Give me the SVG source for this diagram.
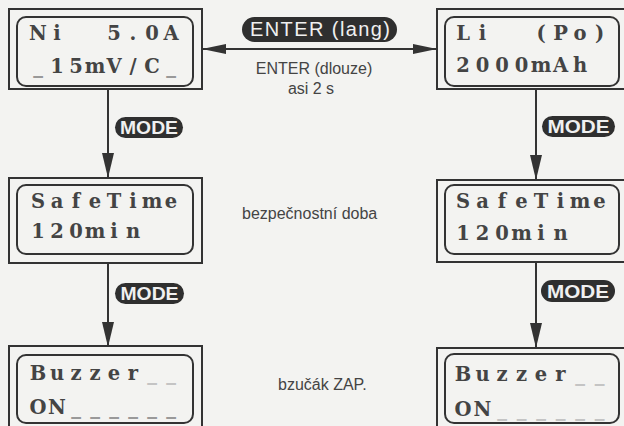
<svg xmlns="http://www.w3.org/2000/svg" width="624" height="426" viewBox="0 0 624 426">
<defs>
<style>
.bg{fill:#f3f3f1}
.outer{fill:none;stroke:#333;stroke-width:2}
.inner{fill:none;stroke:#333;stroke-width:2}
.lcd{font-family:"DejaVu Serif","Liberation Serif",serif;font-weight:bold;font-size:19.5px;fill:#444;text-anchor:middle}
.dim{fill:#999}
.faint{fill:#c4c4c4}
.badge{fill:#2f2f2f}
.btxt{font-family:"Liberation Sans",Arial,sans-serif;font-size:18px;font-weight:bold;fill:#f0f0f0;text-anchor:middle}
.big{font-size:20px;font-weight:normal}
.lbl{font-family:"Liberation Sans",Arial,sans-serif;font-size:16px;fill:#444}
.conn{fill:none;stroke:#333;stroke-width:2}
</style>
<marker id="ah" markerUnits="userSpaceOnUse" viewBox="0 0 25 12" markerWidth="25" markerHeight="12" refX="24" refY="6" orient="auto-start-reverse">
<path d="M0,0 L25,6 L0,12 Z" fill="#333"/>
</marker>
<marker id="ahh" markerUnits="userSpaceOnUse" viewBox="0 0 24 10" markerWidth="24" markerHeight="10" refX="23" refY="5" orient="auto-start-reverse">
<path d="M0,0 L24,5 L0,10 Z" fill="#333"/>
</marker>
</defs>
<rect class="bg" x="0" y="0" width="624" height="426"/>

<g id="connectors">
<line class="conn" x1="203" y1="49" x2="436" y2="49" marker-start="url(#ahh)" marker-end="url(#ahh)"/>
<line class="conn" x1="108" y1="89" x2="108" y2="177" marker-end="url(#ah)"/>
<line class="conn" x1="108" y1="263" x2="108" y2="346" marker-end="url(#ah)"/>
<line class="conn" x1="536" y1="89" x2="536" y2="179" marker-end="url(#ah)"/>
<line class="conn" x1="536" y1="262" x2="536" y2="347" marker-end="url(#ah)"/>
</g>

<g id="label-enter-lang">
<rect class="badge" x="242" y="17" width="155" height="25" rx="12.5"/>
<text class="btxt big" x="320" y="36" textLength="140" lengthAdjust="spacing" xml:space="preserve">ENTER (lang)</text>
</g>
<g id="label-enter-dlouze">
<text class="lbl" x="314" y="74" text-anchor="middle">ENTER (dlouze)</text>
<text class="lbl" x="311" y="94" text-anchor="middle" font-size="15">asi 2 s</text>
</g>
<g id="label-mode-l1">
<rect class="badge" x="115" y="117" width="68" height="21" rx="10.5"/>
<text class="btxt" x="149" y="134" textLength="58" lengthAdjust="spacingAndGlyphs">MODE</text>
</g>
<g id="label-mode-r1">
<rect class="badge" x="542" y="116" width="73" height="21" rx="10.5"/>
<text class="btxt" x="578.5" y="133" textLength="62" lengthAdjust="spacingAndGlyphs">MODE</text>
</g>
<g id="label-mode-l2">
<rect class="badge" x="115" y="283" width="69" height="21" rx="10.5"/>
<text class="btxt" x="149.5" y="300" textLength="58" lengthAdjust="spacingAndGlyphs">MODE</text>
</g>
<g id="label-mode-r2">
<rect class="badge" x="541" y="280" width="74" height="22" rx="11"/>
<text class="btxt" x="578" y="297.5" textLength="62" lengthAdjust="spacingAndGlyphs">MODE</text>
</g>
<g id="label-safetime">
<text class="lbl" x="242" y="219">bezpečnostní doba</text>
</g>
<g id="label-buzzer">
<text class="lbl" x="278" y="390" font-size="15.5">bzučák ZAP.</text>
</g>

<g id="node-ni">
<rect class="outer" x="9" y="9" width="193" height="80"/>
<rect class="inner" x="17" y="17" width="176" height="69" rx="9"/>
<text class="lcd" x="38 57 76 95 114 133 152 171" y="40" xml:space="preserve">Ni  5.0A</text>
<text class="lcd" x="38 57 76 95 114 133 152 171" y="73"><tspan class="dim">_</tspan>15mV/C<tspan class="dim">_</tspan></text>
</g>
<g id="node-li">
<rect class="outer" x="437" y="9" width="193" height="80"/>
<rect class="inner" x="445" y="17" width="174" height="69" rx="9"/>
<text class="lcd" x="463 482.5 502 521.5 541 560.5 580 599.5" y="40" xml:space="preserve">Li  (Po)</text>
<text class="lcd" x="463 482.5 502 521.5 541 560.5 580" y="72">2000mAh</text>
</g>
<g id="node-safetime-l">
<rect class="outer" x="9" y="178" width="193" height="85"/>
<rect class="inner" x="17" y="185" width="176" height="69" rx="9"/>
<text class="lcd" x="38 57 76 95 114 133 152 171" y="208">SafeTime</text>
<text class="lcd" x="38 57 76 95 114 133" y="238">120min</text>
</g>
<g id="node-safetime-r">
<rect class="outer" x="437" y="180" width="193" height="82"/>
<rect class="inner" x="445" y="185" width="174" height="69" rx="9"/>
<text class="lcd" x="463 482.5 502 521.5 541 560.5 580 599.5" y="208">SafeTime</text>
<text class="lcd" x="463 482.5 502 521.5 541 560.5" y="240">120min</text>
</g>
<g id="node-buzzer-l">
<rect class="outer" x="9" y="346" width="193" height="86"/>
<rect class="inner" x="17" y="355" width="176" height="68" rx="9"/>
<text class="lcd" x="38 57 76 95 114 133 152 171" y="380">Buzzer<tspan class="faint">__</tspan></text>
<text class="lcd" x="38 57 76 95 114 133 152 171" y="414">ON<tspan class="dim">______</tspan></text>
</g>
<g id="node-buzzer-r">
<rect class="outer" x="437" y="348" width="193" height="84"/>
<rect class="inner" x="445" y="354" width="174" height="69" rx="9"/>
<text class="lcd" x="463 482.5 502 521.5 541 560.5 580 599.5" y="381">Buzzer<tspan class="faint">__</tspan></text>
<text class="lcd" x="463 482.5 502 521.5 541 560.5 580 599.5" y="416">ON<tspan class="faint">______</tspan></text>
</g>
</svg>
